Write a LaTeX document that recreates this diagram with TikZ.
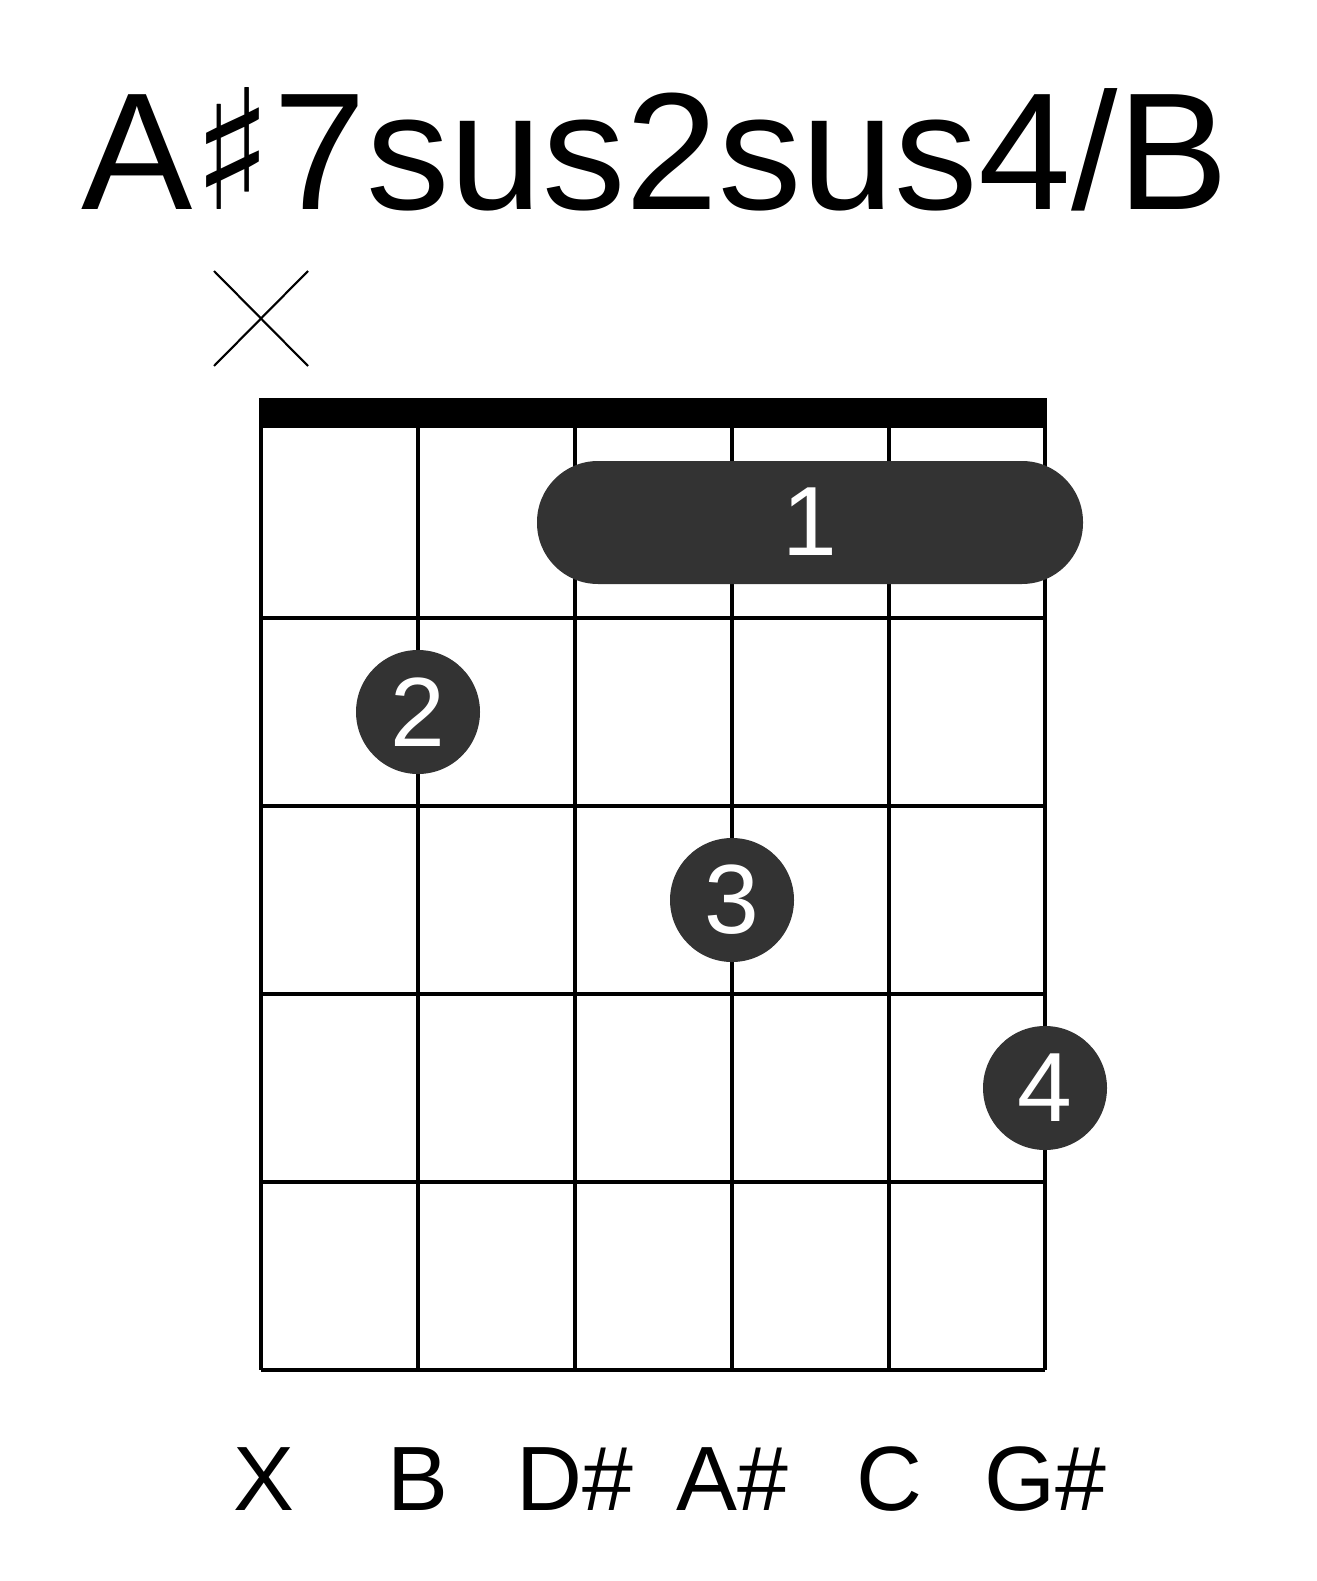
\documentclass[tikz,border=0pt]{standalone}
\usepackage{fontspec}
\setmainfont{Liberation Sans}
\newfontfamily\symfont{DejaVu Sans}
\definecolor{dotgray}{HTML}{333333}
\tikzset{
  gridline/.style={line width=4pt*0.5},
  finger/.style={circle, fill=dotgray, minimum size=124*0.02cm, inner sep=0pt,
                 text=white, font=\fontsize{56}{56}\selectfont},
  notename/.style={anchor=base, font=\fontsize{52}{52}\selectfont}
}
\begin{document}
\begin{tikzpicture}[x=0.02cm, y=-0.02cm]
\useasboundingbox (0,0) rectangle (1317,1581);
% title
\node[anchor=base, font=\fontsize{95}{95}\selectfont] (title) at (655,210)
  {A{\symfont\char"266F}7sus2sus4/B};
% muted string
\draw[line width=1.2pt] (214,271) -- (308,366) (214,366) -- (308,271);
% nut and grid
\fill (259,398) rectangle (1047,428);
\foreach \x in {261,418,575,732,889,1045}
  \draw[gridline] (\x,428) -- (\x,1370);
\foreach \y in {618,806,994,1182,1370}
  \draw[gridline] (261,\y) -- (1045,\y);
% barre
\fill[dotgray, rounded corners=61*0.02cm] (537,461) rectangle (1083,584);
\node[text=white, font=\fontsize{56}{56}\selectfont] (barre) at (810,522) {1};
% fingers
\node[finger] (f2) at (418,712) {2};
\node[finger] (f3) at (732,900) {3};
\node[finger] (f4) at (1045,1088) {4};
% note names
\foreach \x/\n in {264/X,418/B,575/D\#,732/A\#,889/C,1045/G\#}
  \node[notename] at (\x,1510) {\n};
\end{tikzpicture}
\end{document}
